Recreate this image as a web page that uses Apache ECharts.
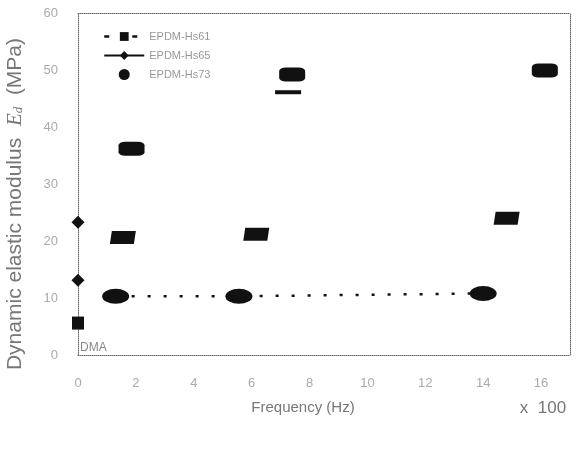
<!DOCTYPE html>
<html>
<head>
<meta charset="utf-8">
<script src="https://cdn.jsdelivr.net/npm/echarts@6/dist/echarts.min.js"></script>
<style>html,body{margin:0;padding:0;background:#fff}#c{width:576px;height:450px}</style>
</head>
<body>
<div id="c"></div>
<script>
// Frequency in units of 100 Hz, modulus in MPa
const seriesNames = ['EPDM-Hs61', 'EPDM-Hs65', 'EPDM-Hs73'];
const hs61Freq = [1.30, 5.56, 14.0];
const hs61Mod = [10.3, 10.3, 10.8];
const hs65Freq = [1.55, 6.16, 14.81];
const hs65Mod = [20.6, 21.2, 24.0];
const hs73Freq = [1.85, 7.40, 16.13];
const hs73Mod = [36.2, 49.2, 49.9];
const hs73LowFreq = [7.26];
const hs73LowMod = [46.1];
const dmaSquareFreq = [0];
const dmaSquareMod = [5.6];
const dmaDiamondFreq = [0, 0];
const dmaDiamondMod = [13.1, 23.3];
const dmaLabel = 'DMA';

const zip = (xs, ys) => xs.map((x, i) => [x, ys[i]]);
const ink = '#111';
const solid = { color: ink, opacity: 1 };
const ellipse = 'path://M0,50A100,50,0,1,1,200,50A100,50,0,1,1,0,50Z';
const para = 'path://M8,0L104,0L96,50L0,50Z';

const chart = echarts.init(document.getElementById('c'));
const frame = { show: true, onZero: false, lineStyle: { color: '#666', width: 1, type: 'dotted' } };
chart.setOption({
  animation: false,
  backgroundColor: '#fff',
  grid: { left: 78, right: 6, top: 13, bottom: 95 },
  legend: {
    orient: 'vertical', left: 98, top: 26,
    itemWidth: 40, itemHeight: 11, itemGap: 8,
    textStyle: { fontSize: 11, color: '#999', fontFamily: 'Liberation Sans' },
    data: [
      { name: seriesNames[0], lineStyle: { type: [5, 23], width: 2.5, color: ink, opacity: 1 } },
      { name: seriesNames[1], lineStyle: { type: 'solid', width: 2, color: ink, opacity: 1 } },
      { name: seriesNames[2] }
    ]
  },
  xAxis: [{
    type: 'value', min: 0, max: 17, interval: 2,
    axisLine: frame, axisTick: { show: false }, splitLine: { show: false },
    axisLabel: { margin: 22, fontSize: 13, color: '#aaa', fontFamily: 'Liberation Sans',
      formatter: v => (v <= 16 ? String(v) : '') }
  }, {
    type: 'value', position: 'top', min: 0, max: 17,
    axisLine: frame, axisTick: { show: false }, axisLabel: { show: false }, splitLine: { show: false }
  }],
  yAxis: [{
    type: 'value', min: 0, max: 60, interval: 10,
    axisLine: frame, axisTick: { show: false }, splitLine: { show: false },
    axisLabel: { margin: 20, fontSize: 13, color: '#aaa', fontFamily: 'Liberation Sans' }
  }, {
    type: 'value', position: 'right', min: 0, max: 60,
    axisLine: frame, axisTick: { show: false }, axisLabel: { show: false }, splitLine: { show: false }
  }],
  series: [
    {
      name: seriesNames[0], type: 'line', data: zip(hs61Freq, hs61Mod),
      symbol: 'rect', symbolSize: 9,
      lineStyle: { color: ink, width: 2.5, type: [3, 13] },
      itemStyle: solid,
      z: 3
    },
    {
      name: seriesNames[1], type: 'line', data: zip(hs65Freq, hs65Mod),
      symbol: 'diamond', symbolSize: 10,
      lineStyle: { color: ink, width: 2, opacity: 0 },
      itemStyle: solid
    },
    {
      name: seriesNames[2], type: 'scatter', data: zip(hs73Freq, hs73Mod),
      symbol: 'circle', symbolSize: 10,
      itemStyle: solid
    },
    // blob renderings of the clustered measurements
    { type: 'scatter', data: zip(hs61Freq, hs61Mod), symbol: ellipse, symbolSize: [27, 15], itemStyle: solid, z: 4, silent: true },
    { type: 'scatter', data: zip(hs65Freq, hs65Mod), symbol: para, symbolSize: [26, 13], itemStyle: solid, z: 4, silent: true },
    { type: 'scatter', data: zip(hs73Freq, hs73Mod), symbol: 'roundRect', symbolSize: [26, 14], itemStyle: solid, z: 4, silent: true },
    { type: 'scatter', data: zip(hs73LowFreq, hs73LowMod), symbol: 'rect', symbolSize: [26, 4], itemStyle: solid, z: 4, silent: true },
    { type: 'scatter', data: zip(dmaSquareFreq, dmaSquareMod), symbol: 'rect', symbolSize: [12, 13], itemStyle: solid, z: 4, silent: true },
    { type: 'scatter', data: zip(dmaDiamondFreq, dmaDiamondMod), symbol: 'diamond', symbolSize: [13, 13], itemStyle: solid, z: 4, silent: true }
  ],
  graphic: [
    {
      type: 'text', x: 15, y: 204, rotation: Math.PI / 2,
      style: {
        text: 'Dynamic elastic modulus  {i|E}{s|d}  (MPa)',
        fill: '#777', fontSize: 21, fontFamily: 'Liberation Sans',
        align: 'center', verticalAlign: 'middle',
        rich: {
          i: { fontSize: 21, fontStyle: 'italic', fill: '#777', fontFamily: 'Liberation Serif' },
          s: { fontSize: 13, fontStyle: 'italic', fill: '#777', verticalAlign: 'bottom', fontFamily: 'Liberation Serif' }
        }
      }
    },
    {
      type: 'text', x: 303, y: 408,
      style: { text: 'Frequency (Hz)', fill: '#777', fontSize: 15, fontFamily: 'Liberation Sans', align: 'center', verticalAlign: 'middle' }
    },
    {
      type: 'text', x: 543, y: 408,
      style: { text: 'x  100', fill: '#777', fontSize: 17, fontFamily: 'Liberation Sans', align: 'center', verticalAlign: 'middle' }
    },
    {
      type: 'text', x: 80, y: 348,
      style: { text: dmaLabel, fill: '#888', fontSize: 12, fontFamily: 'Liberation Sans', align: 'left', verticalAlign: 'middle' }
    }
  ]
});
</script>
</body>
</html>
